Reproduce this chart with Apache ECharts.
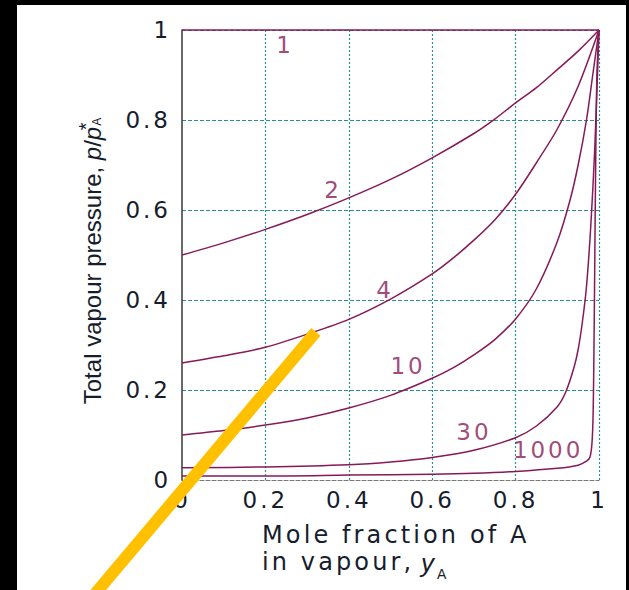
<!DOCTYPE html>
<html>
<head>
<meta charset="utf-8">
<script src="https://cdn.jsdelivr.net/npm/echarts@6/dist/echarts.min.js"></script>
<style>
html,body{margin:0;padding:0;background:#000;}
#chart{width:629px;height:590px;}
#chart text[style*="DejaVu"]{letter-spacing:0.13em;}
</style>
</head>
<body>
<div id="chart"></div>
<script>
// ---- data ----
const xTicks = [0, 0.2, 0.4, 0.6, 0.8, 1];
const yTicks = [0, 0.2, 0.4, 0.6, 0.8, 1];

const curve1X = [0, 1];
const curve1Y = [1, 1];

const curve2X = [0, 0.1, 0.2, 0.3, 0.4, 0.5, 0.6, 0.7, 0.75, 0.8, 0.85, 0.9, 0.95, 1];
const curve2Y = [0.5, 0.527, 0.557, 0.59, 0.627, 0.668, 0.716, 0.77, 0.802, 0.838, 0.872, 0.912, 0.953, 1];

const curve4X = [0, 0.1, 0.2, 0.3, 0.4, 0.5, 0.6, 0.65, 0.7, 0.75, 0.8, 0.85, 0.9, 0.95, 1];
const curve4Y = [0.26, 0.276, 0.295, 0.324, 0.357, 0.402, 0.458, 0.493, 0.533, 0.578, 0.635, 0.705, 0.78, 0.875, 1];

const curve10X = [0, 0.1, 0.2, 0.3, 0.4, 0.5, 0.6, 0.65, 0.7, 0.75, 0.8, 0.85, 0.9, 0.93, 0.95, 0.97, 0.985, 1];
const curve10Y = [0.1, 0.11, 0.122, 0.138, 0.16, 0.188, 0.226, 0.249, 0.278, 0.312, 0.358, 0.425, 0.53, 0.62, 0.70, 0.80, 0.9, 1];

const curve30X = [0, 0.2, 0.4, 0.5, 0.6, 0.7, 0.8, 0.85, 0.9, 0.92, 0.94, 0.95, 0.96, 0.97, 0.98, 0.99, 1];
const curve30Y = [0.027, 0.029, 0.034, 0.04, 0.05, 0.066, 0.094, 0.12, 0.163, 0.195, 0.25, 0.29, 0.35, 0.43, 0.56, 0.74, 1];

const curve1000X = [0, 0.2, 0.4, 0.6, 0.7, 0.8, 0.9, 0.95, 0.97, 0.978, 0.983, 0.986, 0.988, 0.99, 0.992, 0.995, 1];
const curve1000Y = [0.009, 0.009, 0.011, 0.013, 0.015, 0.019, 0.026, 0.033, 0.042, 0.05, 0.08, 0.15, 0.3, 0.5, 0.7, 0.9, 1];

const curveNames = ['1', '2', '4', '10', '30', '1000'];
const labelX = [0.247, 0.362, 0.487, 0.542, 0.70, 0.878];
const labelY = [0.967, 0.644, 0.422, 0.253, 0.107, 0.067];

const pointerX = [-0.215, 0.321];
const pointerY = [-0.26, 0.329];

// ---- styles ----
const curveColor = '#861a58';
const gridColor = '#2a9090';
const textColor = '#161d2d';
const tickFont = 'DejaVu Sans';

function zip(xs, ys) { return xs.map((x, i) => [x, ys[i]]); }

const curveSets = [
  [curve1X, curve1Y], [curve2X, curve2Y], [curve4X, curve4Y],
  [curve10X, curve10Y], [curve30X, curve30Y], [curve1000X, curve1000Y]
];

const series = curveSets.map((c, i) => ({
  name: curveNames[i],
  type: 'line',
  data: zip(c[0], c[1]),
  showSymbol: false,
  smooth: i > 0 ? 0.3 : false,
  clip: false,
  lineStyle: { color: curveColor, width: 1.5 },
  z: 3,
  silent: true
}));

series.push({
  type: 'scatter',
  data: curveNames.map((n, i) => ({ name: n, value: [labelX[i], labelY[i]] })),
  symbolSize: 0,
  silent: true,
  z: 4,
  label: {
    show: true, position: 'inside', formatter: '{b}',
    fontFamily: tickFont, fontSize: 23, color: curveColor
  }
});

const chart = echarts.init(document.getElementById('chart'), null, { renderer: 'svg' });
chart.setOption({
  animation: false,
  backgroundColor: '#ffffff',
  grid: { left: 182, right: 30, top: 30, bottom: 110, containLabel: false, outerBoundsMode: 'none' },
  xAxis: {
    type: 'value', min: xTicks[0], max: xTicks[xTicks.length - 1], interval: 0.2,
    axisLine: { show: true, onZero: false, lineStyle: { color: '#7a7a7a', width: 1.2, type: [4, 2] } },
    axisTick: { show: false },
    axisLabel: { margin: 8, fontFamily: tickFont, fontSize: 23, color: textColor },
    splitLine: { show: true, showMinLine: false, lineStyle: { color: gridColor, width: 1.2, type: [2, 2] } }
  },
  yAxis: {
    type: 'value', min: yTicks[0], max: yTicks[yTicks.length - 1], interval: 0.2,
    axisLine: { show: true, onZero: false, lineStyle: { color: '#444', width: 1.6 } },
    axisTick: { show: false },
    axisLabel: { margin: 11, fontFamily: tickFont, fontSize: 23, color: textColor },
    splitLine: { show: true, showMinLine: false, lineStyle: { color: gridColor, width: 1.2, type: [4, 2] } }
  },
  graphic: [
    { id: 'bl', type: 'rect', shape: { x: 0, y: 0, width: 17, height: 590 }, style: { fill: '#000' }, silent: true },
    { id: 'bt', type: 'rect', shape: { x: 0, y: 0, width: 629, height: 5 }, style: { fill: '#000' }, silent: true },
    { id: 'br', type: 'rect', shape: { x: 626, y: 0, width: 3, height: 590 }, style: { fill: '#000' }, silent: true },
    {
      id: 'ytitle', type: 'text', x: 92, y: 261, rotation: Math.PI / 2, silent: true,
      style: {
        text: '{n|Total vapour pressure, }{i|p}{n|/}{i|p}{s|*}{a|A}',
        align: 'center', verticalAlign: 'middle',
        rich: {
          n: { fontFamily: 'Liberation Sans', fontSize: 24, fill: textColor, lineHeight: 32 },
          i: { fontFamily: 'Liberation Sans', fontSize: 24, fontStyle: 'italic', fill: textColor, lineHeight: 32 },
          s: { fontFamily: 'Liberation Sans', fontSize: 20, fill: textColor, lineHeight: 32, verticalAlign: 'top', width: 1 },
          a: { fontFamily: 'Liberation Sans', fontSize: 12, fill: textColor, lineHeight: 32, verticalAlign: 'middle', padding: [10, 0, 0, 0] }
        }
      }
    },
    {
      id: 'xt1', type: 'text', x: 262, y: 535, silent: true,
      style: { text: 'Mole fraction of A', fontFamily: 'DejaVu Sans', fontSize: 24, fill: textColor, align: 'left', verticalAlign: 'middle' }
    },
    {
      id: 'xt2', type: 'text', x: 262, y: 562, silent: true,
      style: { text: 'in vapour,', fontFamily: 'DejaVu Sans', fontSize: 24, fill: textColor, align: 'left', verticalAlign: 'middle' }
    },
    {
      id: 'xt3', type: 'text', x: 421, y: 563, silent: true,
      style: { text: 'y', fontFamily: 'Liberation Sans', fontSize: 26, fontStyle: 'italic', fill: textColor, align: 'left', verticalAlign: 'middle' }
    },
    {
      id: 'xt4', type: 'text', x: 437, y: 574, silent: true,
      style: { text: 'A', fontFamily: 'Liberation Sans', fontSize: 14, fill: textColor, align: 'left', verticalAlign: 'middle' }
    }
  ],
  series: series
});

// yellow pointer line, placed through the chart's own scales
const pA = chart.convertToPixel({ gridIndex: 0 }, [pointerX[0], pointerY[0]]);
const pB = chart.convertToPixel({ gridIndex: 0 }, [pointerX[1], pointerY[1]]);
chart.setOption({
  graphic: [{
    id: 'pointer', type: 'line', z: 100, silent: true,
    shape: { x1: pA[0], y1: pA[1], x2: pB[0], y2: pB[1] },
    style: { stroke: '#ffc000', lineWidth: 12, lineCap: 'butt' }
  }]
});
</script>
</body>
</html>
